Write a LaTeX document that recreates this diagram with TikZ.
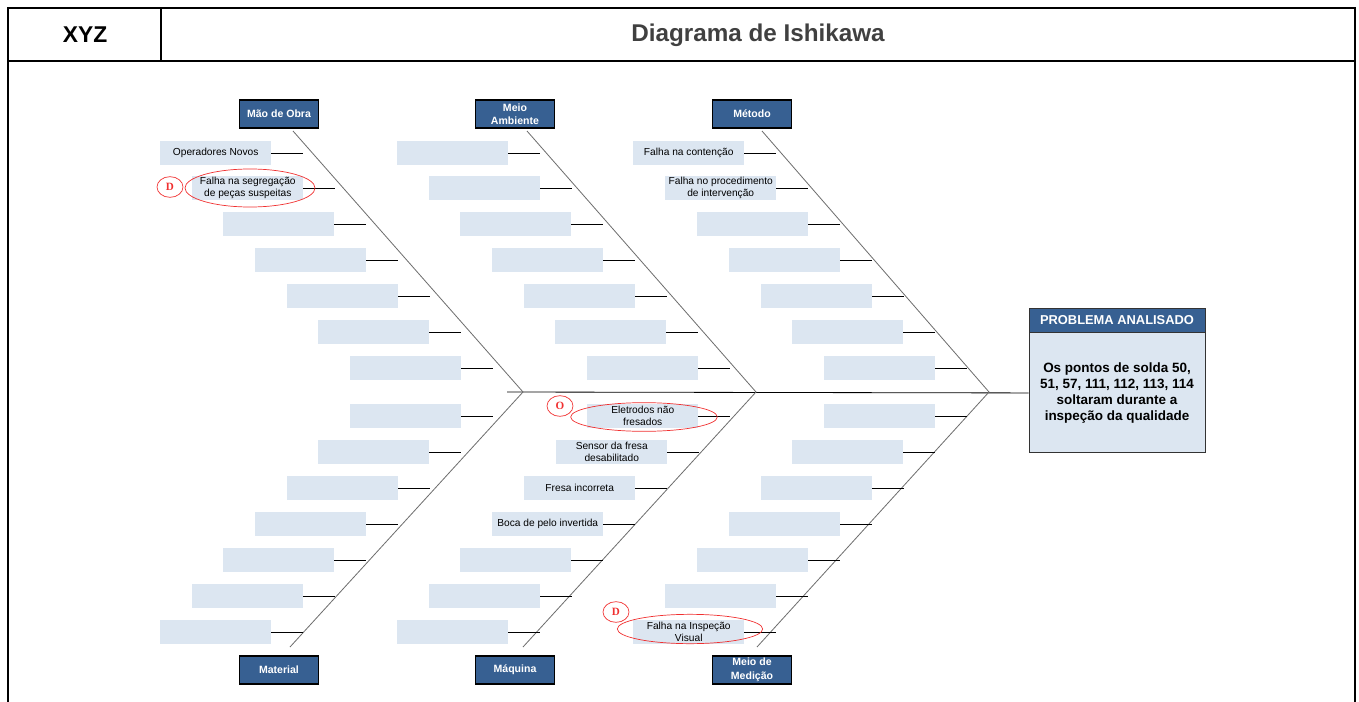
\documentclass[tikz,border=0pt]{standalone}
\usepackage{fontspec}
\setmainfont{Liberation Sans}
\newfontfamily\tagfont{Liberation Serif}
\usetikzlibrary{positioning,calc,shapes.geometric}
\definecolor{catblue}{HTML}{376092}
\definecolor{cellblue}{HTML}{DCE6F1}
\definecolor{bonegray}{HTML}{6E6E6E}
\definecolor{ringred}{HTML}{F03030}
\tikzset{
  cause/.style={fill=cellblue, minimum width=3.33cm, minimum height=0.72cm,
    inner sep=0pt, align=center, font=\fontsize{8.7}{10.5}\selectfont},
  category/.style={draw=black, line width=1.3pt, fill=catblue, text=white,
    minimum width=2.37cm, minimum height=0.84cm, inner sep=0pt, align=center,
    font=\fontsize{9}{11.5}\selectfont\bfseries},
  bone/.style={draw=bonegray, line width=0.7pt},
  tick/.style={draw=black, line width=0.6pt},
  ring/.style={draw=ringred, line width=0.6pt},
  tagring/.style={ring, ellipse, minimum width=0.78cm, minimum height=0.62cm,
    inner sep=0pt, text=ringred, font=\tagfont\fontsize{9.5}{9.5}\selectfont\bfseries},
  probhead/.style={draw=black!80, line width=0.8pt, fill=catblue, text=white,
    minimum width=5.28cm, minimum height=0.72cm, inner sep=0pt,
    font=\fontsize{11}{12}\selectfont\bfseries},
  probbody/.style={draw=black!80, line width=0.8pt, fill=cellblue,
    minimum width=5.28cm, minimum height=3.6cm, inner sep=0pt, align=center,
    font=\fontsize{11.5}{13.5}\selectfont\bfseries}
}
\begin{document}
\begin{tikzpicture}[x=0.03cm, y=-0.03cm]
  \useasboundingbox (0,0) rectangle (1359,702);
  % frame and header
  \draw[line width=1.2pt] (8,702) -- (8,8) -- (1355,8) -- (1355,702);
  \draw[line width=1.2pt] (8,61) -- (1355,61);
  \draw[line width=1.2pt] (161,8) -- (161,61);
  \node[font=\fontsize{19.5}{22}\selectfont\bfseries] (xyz) at (85,35) {XYZ};
  \node[font=\fontsize{20.7}{24}\selectfont\bfseries, text=black!75] (title) at (758,35) {Diagrama de Ishikawa};

  % categories
  \node[category] (cmo) at (279,114) {Mão de Obra};
  \node[category] (cma) at (515,114) {Meio\\Ambiente};
  \node[category] (cme) at (752,114) {Método};
  \node[category] (cmt) at (279,670) {Material};
  \node[category] (cmq) at (515,670) {Máquina};
  \node[category] (cmd) at (752,670) {Meio de\\Medição};

  % problem
  \node[probhead] (ph) at (1117,320) {PROBLEMA ANALISADO};
  \node[probbody, anchor=north] (pb) at (ph.south) {Os pontos de solda 50,\\51, 57, 111, 112, 113, 114\\soltaram durante a\\inspeção da qualidade};

  % spine and bones
  \coordinate (sp) at (507,392);
  \draw[line width=0.7pt] (sp) -- (pb.west);
  \coordinate (tipA) at (523,392);
  \coordinate (tipB) at (756,392);
  \coordinate (tipC) at (989,392);
  \draw[bone] (293,131) -- (tipA) -- (290,647);
  \draw[bone] (527,131) -- (tipB) -- (523,647);
  \draw[bone] (762,131) -- (tipC) -- (757,647);

  % causes
  \foreach \i/\xl/\yy/\txt in {1/160/153/Operadores Novos,
      2/192/188/{Falha na segregação\\de peças suspeitas},
      3/223/224/{}, 4/255/260/{}, 5/287/296/{}, 6/318/332/{}, 7/350/368/{}}{
    \node[cause, anchor=west] (mo\i) at (\xl,\yy) {\txt};
    \draw[tick] (mo\i.east) -- ++(32,0);
  }
  \foreach \i/\xl/\yy in {1/397/153, 2/429/188, 3/460/224, 4/492/260,
      5/524/296, 6/555/332, 7/587/368}{
    \node[cause, anchor=west] (ma\i) at (\xl,\yy) {};
    \draw[tick] (ma\i.east) -- ++(32,0);
  }
  \foreach \i/\xl/\yy/\txt in {1/633/153/Falha na contenção,
      2/665/188/{Falha no procedimento\\de intervenção},
      3/697/224/{}, 4/729/260/{}, 5/761/296/{}, 6/792/332/{}, 7/824/368/{}}{
    \node[cause, anchor=west] (me\i) at (\xl,\yy) {\txt};
    \draw[tick] (me\i.east) -- ++(32,0);
  }
  \foreach \i/\xl/\yy in {1/350/416, 2/318/452, 3/287/488, 4/255/524,
      5/223/560, 6/192/596, 7/160/632}{
    \node[cause, anchor=west] (mt\i) at (\xl,\yy) {};
    \draw[tick] (mt\i.east) -- ++(32,0);
  }
  \foreach \i/\xl/\yy/\txt in {1/587/416/{Eletrodos não\\fresados},
      2/556/452/{Sensor da fresa\\desabilitado},
      3/524/488/Fresa incorreta, 4/492/524/Boca de pelo invertida,
      5/460/560/{}, 6/429/596/{}, 7/397/632/{}}{
    \node[cause, anchor=west] (mq\i) at (\xl,\yy) {\txt};
    \draw[tick] (mq\i.east) -- ++(32,0);
  }
  \foreach \i/\xl/\yy/\txt in {1/824/416/{}, 2/792/452/{}, 3/761/488/{},
      4/729/524/{}, 5/697/560/{}, 6/665/596/{},
      7/633/632/{Falha na Inspeção\\Visual}}{
    \node[cause, anchor=west] (md\i) at (\xl,\yy) {\txt};
    \draw[tick] (md\i.east) -- ++(32,0);
  }

  % marked causes
  \draw[ring] (250,188) ellipse (1.95cm and 0.57cm);
  \node[tagring] (tmo) at (170,187) {D};
  \draw[ring] (644,417) ellipse (2.2cm and 0.43cm);
  \node[tagring] (tmq) at (560,406) {O};
  \draw[ring] (690,629) ellipse (2.18cm and 0.44cm);
  \node[tagring] (tmd) at (616,612) {D};
\end{tikzpicture}
\end{document}
